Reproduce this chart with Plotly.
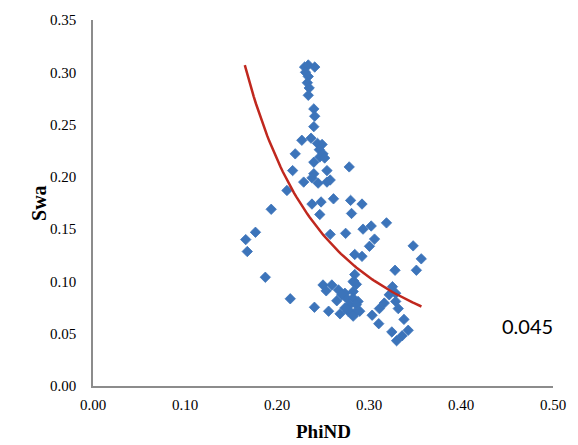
import numpy as np
import plotly.graph_objects as go

# Scatter data: PhiND (x) vs Swa (y)
phind = [
    0.230, 0.234, 0.241, 0.231, 0.234, 0.233, 0.235, 0.234,
    0.240, 0.241, 0.240, 0.237, 0.227, 0.244, 0.249, 0.246, 0.250,
    0.2198, 0.240, 0.2465, 0.2518, 0.2785, 0.217, 0.2543, 0.240, 0.238,
    0.229, 0.2447, 0.2543, 0.2578, 0.2108, 0.1937, 0.238, 0.2479, 0.2614,
    0.280, 0.2924, 0.2465, 0.281, 0.1766, 0.166, 0.1677, 0.2578, 0.2746,
    0.2935, 0.3024, 0.306, 0.3005, 0.2845, 0.2924, 0.1873, 0.2845,
    0.319, 0.348, 0.3568, 0.3515, 0.3283,
    0.2835, 0.2863, 0.250, 0.2596, 0.2535, 0.2668, 0.2738, 0.2828, 0.3255,
    0.322, 0.329, 0.265, 0.2756, 0.2828, 0.2881, 0.2792, 0.3166, 0.329,
    0.2407, 0.2561, 0.2685, 0.2774, 0.2845, 0.2899, 0.2828, 0.3034, 0.3113,
    0.3318, 0.3106, 0.338, 0.3248, 0.3426, 0.336, 0.330, 0.2144, 0.2774,
    0.2703, 0.2863, 0.2738, 0.2828,
]
swa = [
    0.305, 0.307, 0.305, 0.300, 0.296, 0.290, 0.285, 0.278,
    0.265, 0.258, 0.248, 0.237, 0.235, 0.232, 0.231, 0.226, 0.222,
    0.222, 0.214, 0.219, 0.218, 0.2095, 0.206, 0.206, 0.203, 0.199,
    0.195, 0.194, 0.195, 0.197, 0.187, 0.169, 0.174, 0.176, 0.179,
    0.1775, 0.174, 0.164, 0.165, 0.147, 0.140, 0.1286, 0.145, 0.146,
    0.150, 0.153, 0.1405, 0.1336, 0.1258, 0.124, 0.104, 0.1066,
    0.156, 0.134, 0.1216, 0.1107, 0.1107,
    0.1003, 0.0972, 0.0966, 0.0966, 0.091, 0.0919, 0.0887, 0.0903, 0.095,
    0.0872, 0.0887, 0.0815, 0.084, 0.084, 0.0809, 0.0778, 0.0793, 0.0809,
    0.0753, 0.0715, 0.069, 0.0715, 0.0699, 0.0715, 0.0668, 0.0677, 0.074,
    0.074, 0.0596, 0.0637, 0.0517, 0.0533, 0.048, 0.0433, 0.0834, 0.073,
    0.0872, 0.0778, 0.0746, 0.0997,
]

# Power trend line (Excel-style y = a * x^b), coefficients
trend_a = 0.01181
trend_b = -1.808
trend_x_start = 0.165
trend_x_end = 0.357

x_ticks = [0.0, 0.1, 0.2, 0.3, 0.4, 0.5]
y_ticks = [0.0, 0.05, 0.10, 0.15, 0.20, 0.25, 0.30, 0.35]

trend_x = np.linspace(trend_x_start, trend_x_end, 80)
trend_y = trend_a * trend_x ** trend_b

fig = go.Figure()
fig.add_trace(go.Scatter(
    x=phind, y=swa, mode="markers",
    marker=dict(symbol="diamond", size=8, color="#3C74BA",
                line=dict(width=0.8, color="#3C74BA")),
    showlegend=False, hoverinfo="skip",
))
fig.add_trace(go.Scatter(
    x=trend_x, y=trend_y, mode="lines",
    line=dict(color="#C0281E", width=2.5),
    showlegend=False, hoverinfo="skip",
))

serif = "Liberation Serif, Times New Roman, serif"

fig.update_layout(
    width=578, height=445,
    margin=dict(l=93, r=17, t=14, b=59),
    paper_bgcolor="white", plot_bgcolor="white",
    font=dict(family=serif, size=15, color="#000000"),
    xaxis=dict(range=[0, 0.5], tickvals=x_ticks, tickformat=".2f",
               showgrid=False, zeroline=False, showline=True,
               linecolor="#8C8C8C", linewidth=1.5, ticks="",
               ticklabelstandoff=4,
               tickfont=dict(family=serif, size=15, color="#000000")),
    yaxis=dict(range=[0, 0.35], tickvals=y_ticks, tickformat=".2f",
               showgrid=False, zeroline=False, showline=True,
               linecolor="#8C8C8C", linewidth=1.5, ticks="",
               ticklabelstandoff=12,
               tickfont=dict(family=serif, size=15, color="#000000")),
    annotations=[
        dict(text="<b>Swa</b>", xref="paper", yref="paper",
             x=-0.1175, y=0.5, showarrow=False, textangle=-90,
             xanchor="center", yanchor="middle",
             font=dict(family=serif, size=20, color="#000000")),
        dict(text="<b>PhiND</b>", xref="paper", yref="paper",
             x=0.5, y=-0.124, showarrow=False,
             xanchor="center", yanchor="middle",
             font=dict(family=serif, size=19, color="#000000")),
        dict(text="0.045", xref="paper", yref="paper",
             x=0.944, y=0.164, showarrow=False,
             xanchor="center", yanchor="middle",
             font=dict(family="Lato, Carlito, sans-serif", size=20, color="#000000")),
    ],
)

fig.write_html("out.html")
